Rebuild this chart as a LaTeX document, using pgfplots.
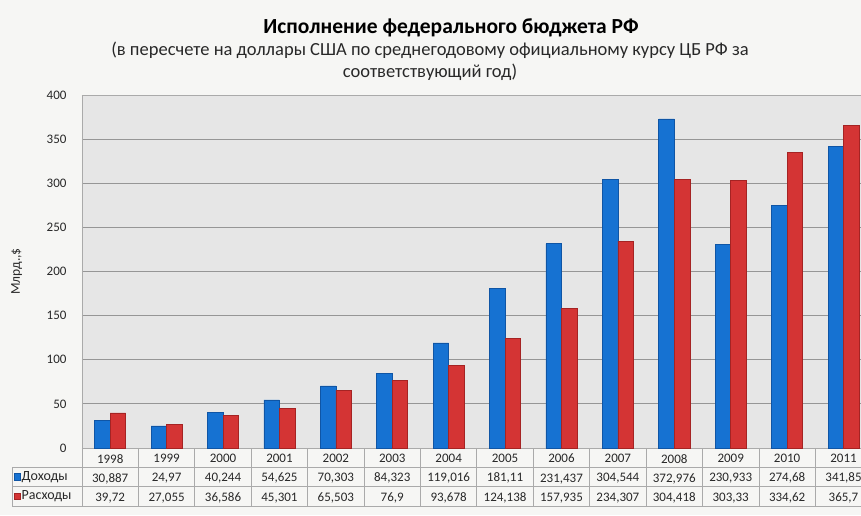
\documentclass[border=0pt]{standalone}
\usepackage{pgfplots}
\pgfplotsset{compat=1.18}
\usepackage{fontspec}
\setmainfont{Carlito}
\definecolor{bgc}{RGB}{246,246,244}
\definecolor{plotbg}{RGB}{230,230,230}
\definecolor{bluemid}{RGB}{22,114,210}
\definecolor{bluedark}{RGB}{15,85,165}
\definecolor{redmid}{RGB}{212,52,52}
\definecolor{reddark}{RGB}{165,35,35}
\definecolor{gridc}{RGB}{150,150,150}
\definecolor{tabline}{RGB}{170,170,170}
\definecolor{txt}{RGB}{40,40,40}

\pgfplotstableread{
x  dohod    rashod
0  30.887   39.72
1  24.97    27.055
2  40.244   36.586
3  54.625   45.301
4  70.303   65.503
5  84.323   76.9
6  119.016  93.678
7  181.11   124.138
8  231.437  157.935
9  304.544  234.307
10 372.976  304.418
11 230.933  303.33
12 274.68   334.62
13 341.85   365.7
}\budget

\begin{document}
\begin{tikzpicture}[x=1pt,y=1pt]
\useasboundingbox (0,0) rectangle (861,-515);
\clip (0,0) rectangle (861,-515);
\fill[bgc] (0,0) rectangle (861,-515);
\node[font=\fontsize{21.5}{24}\selectfont\bfseries, text=black] at (451,-28) {Исполнение федерального бюджета РФ};
\node[font=\fontsize{18.5}{22}\selectfont, align=center, text=txt] at (430,-61) {(в пересчете на доллары США по среднегодовому официальному курсу ЦБ РФ за\\соответствующий год)};
\begin{axis}[
  at={(82pt,-95pt)}, anchor=north west,
  scale only axis, width=779pt, height=353pt,
  xmin=-0.5, xmax=13.31, ymin=0, ymax=400,
  ytick={0,50,...,400},
  /pgf/number format/assume math mode=true,
  ymajorgrids, grid style={gridc, line width=0.9pt},
  axis line style={tabline, line width=0.8pt},
  axis background/.style={fill=plotbg},
  major tick length=0pt,
  yticklabel style={font=\fontsize{13}{15}\selectfont, text=txt, xshift=-12pt},
  ylabel={Млрд.,\$},
  ylabel style={at={(axis description cs:-0.084,0.5)}, anchor=center, font=\fontsize{13.5}{15}\selectfont, text=txt},
  xtick={0,...,13},
  xticklabels={{1998\\30,887\\39,72},{1999\\24,97\\27,055},{2000\\40,244\\36,586},{2001\\54,625\\45,301},{2002\\70,303\\65,503},{2003\\84,323\\76,9},{2004\\119,016\\93,678},{2005\\181,11\\124,138},{2006\\231,437\\157,935},{2007\\304,544\\234,307},{2008\\372,976\\304,418},{2009\\230,933\\303,33},{2010\\274,68\\334,62},{2011\\341,85\\365,7}},
  xticklabel style={font=\fontsize{13}{19.3}\selectfont, align=center, anchor=north, inner sep=0pt, yshift=-6pt, text=txt},
  ybar=0pt, bar width=0.275,
  clip=false,
]
\addplot[draw=bluedark, fill=bluemid, line width=0.6pt] table[x=x, y=dohod] {\budget};
\addplot[draw=reddark, fill=redmid, line width=0.6pt] table[x=x, y=rashod] {\budget};
\pgfplotsinvokeforeach{-0.5,0.5,1.5,2.5,3.5,4.5,5.5,6.5,7.5,8.5,9.5,10.5,11.5,12.5,13.5}{
  \draw[tabline, line width=0.8pt] (axis cs:#1,0) -- ++(0pt,-58pt);
}
\end{axis}
\foreach \yy in {-467,-486.5,-506} {\draw[tabline, line width=0.8pt] (12,\yy) -- (861,\yy);}
\draw[tabline, line width=0.8pt] (12,-467) -- (12,-506);
\fill[bluemid, draw=bluedark] (14,-473.5) rectangle (20.5,-480);
\fill[redmid, draw=reddark] (14,-493) rectangle (20.5,-499.5);
\node[anchor=west, inner sep=0pt, font=\fontsize{14}{16}\selectfont, text=txt] at (21.5,-477) {Доходы};
\node[anchor=west, inner sep=0pt, font=\fontsize{14}{16}\selectfont, text=txt] at (21.5,-496.5) {Расходы};
\end{tikzpicture}
\end{document}
